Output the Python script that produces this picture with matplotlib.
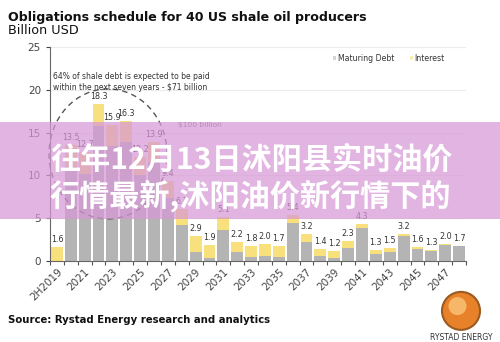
import matplotlib
matplotlib.use("Agg")
import matplotlib.pyplot as plt
from matplotlib.patches import Rectangle, Ellipse
import numpy as np

# Obligations schedule data (billion USD)
years = ["2H2019"] + [str(y) for y in range(2020, 2049)]
maturing_debt = [0.0, 11.0, 10.2, 15.8, 13.4, 13.9, 10.0, 11.6, 7.4, 4.2,
                 1.0, 0.3, 3.6, 1.0, 0.5, 0.6, 0.5, 4.4, 2.2, 0.6,
                 0.3, 1.5, 3.8, 0.8, 1.0, 2.9, 1.4, 1.2, 1.9, 1.7]
interest = [1.6, 2.5, 2.5, 2.5, 2.5, 2.4, 2.2, 2.3, 2.0, 1.9,
            1.9, 1.6, 1.5, 1.2, 1.3, 1.4, 1.2, 1.0, 1.0, 0.8,
            0.9, 0.8, 0.5, 0.5, 0.5, 0.3, 0.2, 0.1, 0.1, 0.0]
totals = [1.6, 13.5, 12.7, 18.3, 15.9, 16.3, 12.2, 13.9, 9.4, 6.1,
          2.9, 1.9, 5.1, 2.2, 1.8, 2.0, 1.7, 5.4, 3.2, 1.4,
          1.2, 2.3, 4.3, 1.3, 1.5, 3.2, 1.6, 1.3, 2.0, 1.7]

GREY = "#b4b4b4"
YELLOW = "#f8e07c"
CJK = ["Noto Sans CJK SC", "DejaVu Sans"]

fig = plt.figure(figsize=(5.0, 3.42), dpi=100)
ax = fig.add_axes([0.1, 0.2368, 0.832, 0.6258])

x = np.arange(len(years))
ax.bar(x, maturing_debt, 0.86, color=GREY, label="Maturing Debt", zorder=2)
ax.bar(x, interest, 0.86, bottom=maturing_debt, color=YELLOW, label="Interest", zorder=2)

for xi, t in zip(x, totals):
    ax.text(xi, t + 0.35, f"{t:.1f}", ha="center", va="bottom", fontsize=5.8, color="#333333")

ax.set_xlim(-0.5, len(years) - 0.5)
ax.set_ylim(0, 25)
ax.set_yticks([0, 5, 10, 15, 20, 25])
ax.tick_params(axis="y", labelsize=7.5, colors="#444444", length=3, width=0.8)
ax.yaxis.grid(True, color="#ececec", linewidth=0.8, zorder=0)

# category boundaries carry the tick marks, labels sit on every second bar
ax.set_xticks(np.arange(-0.5, len(years)), minor=True)
ax.set_xticks(x[::2])
ax.set_xticklabels(years[::2], rotation=45, ha="right", rotation_mode="anchor", fontsize=7.5, color="#444444")
ax.tick_params(axis="x", which="major", length=0, pad=4)
ax.tick_params(axis="x", which="minor", length=3, width=0.8, color="#555555")

for s in ["top", "right"]:
    ax.spines[s].set_visible(False)
for s in ["left", "bottom"]:
    ax.spines[s].set_color("#666666")
    ax.spines[s].set_linewidth(0.8)

leg = ax.legend(loc="upper right", bbox_to_anchor=(0.965, 1.0), ncol=2, frameon=False, fontsize=5.6,
                handlelength=0.45, handleheight=0.45, handletextpad=0.15, columnspacing=2.0)
for t, h in zip(leg.get_texts(), leg.legend_handles):
    t.set_color("#333333")
    h.set_alpha(0.55)

# annotations inside the plot
fig.text(0.106, 0.79, "64% of shale debt is expected to be paid\nwithin the next seven years - $71 billion",
         fontsize=5.5, color="#333333", va="top", linespacing=1.35)
fig.text(0.356, 0.634, "$100 billion", fontsize=5.4, color="#666666", va="center")
fig.patches.append(Ellipse((0.216, 0.55), 0.236, 0.38, transform=fig.transFigure, fill=False,
                           edgecolor="#555555", linestyle=(0, (4, 3)), linewidth=1.0))

# titles and source
fig.text(0.016, 0.968, "Obligations schedule for 40 US shale oil producers", fontsize=9.1,
         fontweight="bold", va="top", color="#111111")
fig.text(0.016, 0.93, "Billion USD", fontsize=9.2, va="top", color="#111111")
fig.text(0.016, 0.064, "Source: Rystad Energy research and analytics", fontsize=7.3,
         fontweight="bold", va="center", color="#111111")

# logo
fig.patches.append(Ellipse((0.922, 0.091), 38 / 500, 38 / 342, transform=fig.transFigure,
                           facecolor="#e8822a", edgecolor="#9a5a22", linewidth=1.5))
fig.patches.append(Ellipse((0.915, 0.105), 18 / 500, 18 / 342, transform=fig.transFigure,
                           facecolor="#f6b868", edgecolor="none"))
fig.text(0.922, 0.014, "RYSTAD ENERGY", fontsize=5.5, ha="center", va="center", color="#333333")

# overlay band with headline
fig.patches.append(Rectangle((0, 1 - 219 / 342), 1, 97 / 342, transform=fig.transFigure,
                             facecolor="#d898d6", alpha=0.72, edgecolor="none", zorder=5))
fig.text(0.1, 0.532, "往年12月13日沭阳县实时油价", fontsize=21.7, fontweight="bold", color="white",
         va="center", family=CJK, zorder=6)
fig.text(0.1, 0.428, "行情最新,沭阳油价新行情下的", fontsize=21.7, fontweight="bold", color="white",
         va="center", family=CJK, zorder=6)

fig.savefig("out.png", dpi=100)
